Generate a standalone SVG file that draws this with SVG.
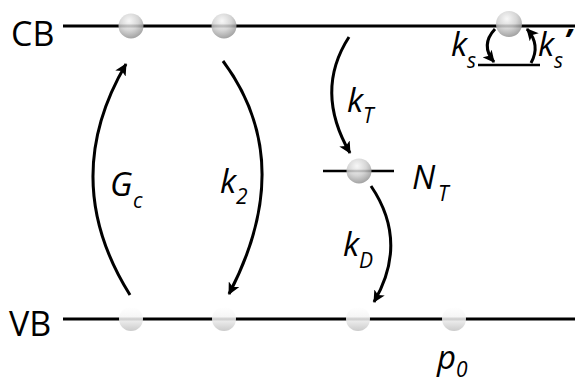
<svg xmlns="http://www.w3.org/2000/svg" width="575" height="381" viewBox="0 0 575 381">
<style>
.band{stroke:#000;stroke-width:3;fill:none}
.arr{stroke:#000;stroke-width:3;fill:none;marker-end:url(#ah)}
.lbl{font-family:"Open Sans","DejaVu Sans",sans-serif;font-size:34px;fill:#000}
.it{font-family:"Open Sans","DejaVu Sans",sans-serif;font-style:italic;font-size:33px;fill:#000}
.sub{font-size:21px}
.e{fill:url(#eg);fill-opacity:0.85}
.h{fill:url(#hg);fill-opacity:0.88}
</style>
<defs>
<radialGradient id="eg" cx="0.42" cy="0.3" r="0.75">
<stop offset="0" stop-color="#f6f6f6"/>
<stop offset="0.5" stop-color="#cfcfcf"/>
<stop offset="1" stop-color="#8a8a8a"/>
</radialGradient>
<linearGradient id="hg" x1="0" y1="0" x2="0" y2="1">
<stop offset="0" stop-color="#ffffff"/>
<stop offset="0.45" stop-color="#f4f4f4"/>
<stop offset="1" stop-color="#c4c4c4"/>
</linearGradient>
<marker id="ah" markerWidth="14" markerHeight="12" refX="11" refY="6" orient="auto" markerUnits="userSpaceOnUse">
<path d="M0,0 L12,6 L0,12 L3,6 z" fill="#000"/>
</marker>
</defs>
<g id="cb">
<text class="lbl" x="11" y="46">CB</text>
<line class="band" x1="63" y1="26" x2="575" y2="26"/>
</g>
<g id="vb">
<text class="lbl" x="9" y="336">VB</text>
<line class="band" x1="63" y1="319" x2="575" y2="319"/>
</g>
<g id="trap">
<line stroke="#000" stroke-width="2.5" x1="323" y1="171" x2="394" y2="171"/>
<text class="it" x="412" y="189">N<tspan class="sub" x="438" y="201">T</tspan></text>
</g>
<g id="surface">
<line stroke="#000" stroke-width="2.5" x1="478" y1="65" x2="540" y2="65"/>
</g>
<g id="electrons">
<circle id="e1" class="e" cx="131" cy="26" r="12.5"/>
<circle id="e2" class="e" cx="224" cy="26" r="12.5"/>
<circle id="e3" class="e" cx="509" cy="24" r="13"/>
<circle id="e4" class="e" cx="359" cy="171" r="12.5"/>
</g>
<g id="holes">
<circle id="h1" class="h" cx="131" cy="319" r="12"/>
<circle id="h2" class="h" cx="224" cy="319" r="12"/>
<circle id="h3" class="h" cx="358" cy="319" r="12"/>
<circle id="h4" class="h" cx="454" cy="319" r="12"/>
<text class="it" x="437" y="369">p<tspan class="sub" x="456" y="377">0</tspan></text>
</g>
<g id="connectors">
<path class="arr" d="M130,295 Q58,180 126,64"/>
<path class="arr" d="M223,61 Q298,162 229,294"/>
<path class="arr" d="M349,37 Q314,91 350,153"/>
<path class="arr" d="M371,186 Q409,242 374,302"/>
<path class="arr" d="M495,29 Q480,45 494,62"/>
<path class="arr" d="M531,63 Q541,45 527,29"/>
</g>
<g id="labels">
<text class="it" x="110" y="196">G<tspan class="sub" x="133" y="208">c</tspan></text>
<text class="it" x="220" y="193">k<tspan class="sub" x="236" y="204">2</tspan></text>
<text class="it" x="347" y="112">k<tspan class="sub" x="363" y="123">T</tspan></text>
<text class="it" x="343" y="256">k<tspan class="sub" x="359" y="268">D</tspan></text>
<text class="it" x="451" y="56">k<tspan class="sub" x="467" y="68">s</tspan></text>
<text class="it" x="538" y="56">k<tspan class="sub" x="554" y="68">s</tspan><tspan x="564" y="52" font-weight="bold">’</tspan></text>
</g>
</svg>
